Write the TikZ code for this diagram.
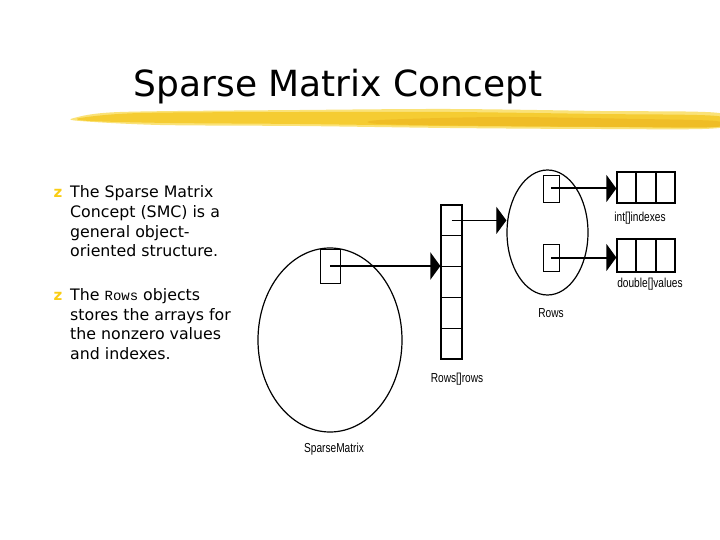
\documentclass[tikz,border=0pt]{standalone}
\usepackage{fontspec}
\setmainfont{DejaVu Sans}
\newfontfamily\labelfont{Liberation Sans}
\newfontfamily\codefont{Liberation Mono}
\usetikzlibrary{arrows.meta,shapes.geometric,calc}
\definecolor{brushyellow}{RGB}{245,204,50}
\definecolor{brushdark}{RGB}{236,180,30}
\definecolor{brushlight}{RGB}{250,226,120}
\definecolor{bulletyellow}{RGB}{250,205,20}
\newcommand\lbltext[1]{\scalebox{0.78}[1]{#1}}
\begin{document}
\begin{tikzpicture}[x=1pt,y=-1pt,
  body/.style={anchor=base west,inner sep=0,font=\fontsize{15.8}{19.5}\selectfont},
  bul/.style={anchor=base,inner sep=0,text=bulletyellow,font=\bfseries\fontsize{15}{16}\selectfont},
  cellbox/.style={draw,line width=1.3pt,minimum width=21,minimum height=30.8,inner sep=0},
  smallbox/.style={draw,line width=0.9pt,inner sep=0},
  oval/.style={ellipse,draw,line width=1.2pt,inner sep=0},
  arrbox/.style={draw,line width=1.3pt,minimum width=58,inner sep=0},
  lbl/.style={inner sep=0,font=\labelfont\fontsize{13}{15}\selectfont},
  arr/.style={-{Triangle[length=10pt,width=27pt]}}
]
\useasboundingbox (0,0) rectangle (720,540);
\fill[white] (0,0) rectangle (720,540);

% title
\node[anchor=base,inner sep=0,font=\fontsize{36}{40}\selectfont] (title) at (338,97) {Sparse Matrix Concept};

% brush stroke
\fill[brushlight] plot[smooth cycle] coordinates {(74,118) (120,112) (300,110) (450,109) (600,111) (719,113) (719,128) (600,129) (450,128) (300,126) (160,125) (80,121)};
\fill[brushyellow] plot[smooth cycle] coordinates {(80,118) (140,113) (300,112) (450,112) (600,114) (717,116) (717,127) (600,127) (450,126) (300,124) (170,123) (90,121)};
\fill[brushdark,opacity=0.6] plot[smooth cycle] coordinates {(380,120) (500,117) (640,119) (716,121) (716,127) (640,127) (500,126) (380,124)};

% bullets
\node[bul] (b1) at (58,198) {z};
\node[bul] (b2) at (58,300) {z};
\node[body] (t1a) at (70,198) {The Sparse Matrix};
\node[body] (t1b) at (70,217.5) {Concept (SMC) is a};
\node[body] (t1c) at (70,237) {general object-};
\node[body] (t1d) at (70,256.5) {oriented structure.};
\node[body] (t2a) at (70,300) {The {\codefont\fontsize{14}{15}\selectfont Rows} objects};
\node[body] (t2b) at (70,320) {stores the arrays for};
\node[body] (t2c) at (70,339.5) {the nonzero values};
\node[body] (t2d) at (70,359) {and indexes.};

% SparseMatrix
\node[oval,minimum width=144,minimum height=184] (sm) at (330,340) {};
\node[smallbox,minimum width=20,minimum height=34] (smbox) at (330,266) {};
\node[lbl] (lblsm) at (334,449) {\lbltext{SparseMatrix}};

% Rows[] array
\foreach \i in {0,...,4} \node[cellbox] (cell\i) at (451.5,{220.4+30.8*\i}) {};
\node[lbl] (lblra) at (457,379) {\lbltext{Rows[]rows}};

% Rows object
\node[oval,minimum width=81,minimum height=125] (rowsell) at (547.5,232.5) {};
\node[smallbox,minimum width=16,minimum height=27] (rbox1) at (551,188.5) {};
\node[smallbox,minimum width=16,minimum height=27] (rbox2) at (551,257.5) {};
\node[lbl] (lblrows) at (551,313) {\lbltext{Rows}};

% arrays
\node[arrbox,minimum height=31] (intarr) at (646,187.5) {};
\node[arrbox,minimum height=33] (dblarr) at (646,255.5) {};
\foreach \a in {intarr,dblarr}{
  \draw[line width=1.3pt] ($(\a.north west)!1/3!(\a.north east)$) -- ($(\a.south west)!1/3!(\a.south east)$);
  \draw[line width=1.3pt] ($(\a.north west)!2/3!(\a.north east)$) -- ($(\a.south west)!2/3!(\a.south east)$);
}
\node[lbl] (lblint) at (640,218) {\lbltext{int[]indexes}};
\node[lbl] (lbldbl) at (650,284) {\lbltext{double[]values}};

% connectors
\draw[arr,line width=2.5pt] (smbox.center) -- (smbox.center -| cell1.south west);
\draw[arr,line width=1pt] (cell0.center) -- (cell0.center -| rowsell.west);
\draw[arr,line width=2pt] (rbox1.center) -- (rbox1.center -| intarr.west);
\draw[arr,line width=2pt] (rbox2.center) -- (rbox2.center -| dblarr.west);
\end{tikzpicture}
\end{document}
